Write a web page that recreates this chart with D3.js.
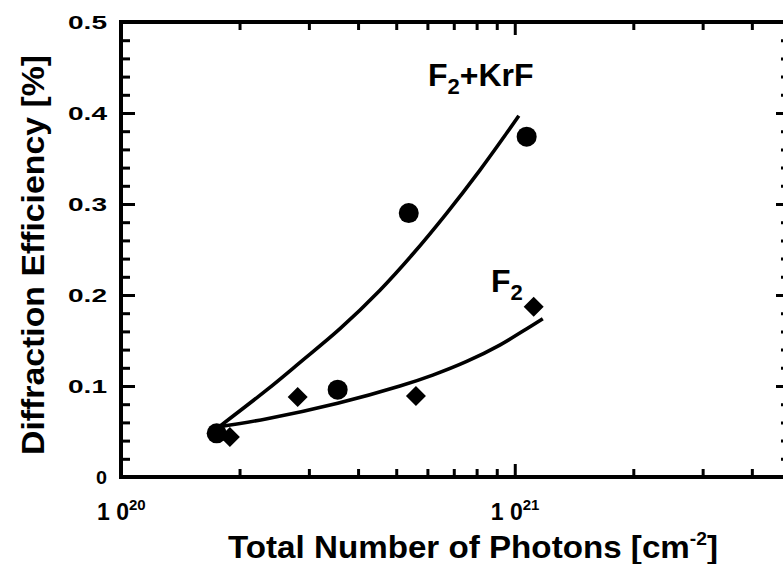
<!DOCTYPE html>
<html>
<head>
<meta charset="utf-8">
<script src="https://cdn.jsdelivr.net/npm/d3@7"></script>
<style>
  body { margin: 0; background: #fff; }
  svg { display: block; }
  text { font-family: "Liberation Sans", Arial, Helvetica, sans-serif; fill: #000; }
</style>
</head>
<body>
<div id="chart"></div>
<script>
// measured points, F2+KrF (circles) and F2 only (diamonds)
var krfX = [1.75e20, 3.55e20, 5.38e20, 1.072e21];
var krfY = [0.048, 0.096, 0.290, 0.374];
var f2X = [1.89e20, 2.81e20, 5.61e20, 1.117e21];
var f2Y = [0.044, 0.088, 0.089, 0.187];

// fit curves
var krfFitX = [1.76e20, 2.35e20, 2.85e20, 3.60e20, 4.54e20, 5.51e20, 6.72e20, 8.15e20, 9.54e20, 1.024e21];
var krfFitY = [0.054, 0.096, 0.126, 0.163, 0.205, 0.245, 0.290, 0.337, 0.378, 0.397];
var f2FitX = [1.76e20, 2.35e20, 3.55e20, 5.11e20, 6.19e20, 7.55e20, 9.16e20, 1.073e21, 1.178e21];
var f2FitY = [0.055, 0.064, 0.081, 0.100, 0.112, 0.127, 0.145, 0.163, 0.174];

// ticks
var xMajor = [1e20, 1e21];
var xMinor = [2e20, 3e20, 4e20, 5e20, 6e20, 7e20, 8e20, 9e20, 2e21, 3e21, 4e21];
var yMajor = [0, 0.1, 0.2, 0.3, 0.4, 0.5];
var yLabels = ["0", "0.1", "0.2", "0.3", "0.4", "0.5"];
var xLabelExp = ["20", "21"];

var W = 783, H = 564;
var m = {left: 121, top: 22, bottom: 477, right: 790};

var svg = d3.select("#chart").append("svg")
  .attr("width", W)
  .attr("height", H);

var x = d3.scaleLog()
  .domain([1e20, 5e21])
  .range([m.left, m.right]);

var y = d3.scaleLinear()
  .domain([0, 0.5])
  .range([m.bottom, m.top]);

var yMinor = d3.range(0, 0.5, 0.02).filter(function(v) {
  return Math.abs(v * 10 - Math.round(v * 10)) > 1e-6;
});

function styleAxis(g) {
  g.select(".domain").remove();
  g.selectAll(".tick line").attr("stroke", "#000").attr("stroke-width", 3);
  g.selectAll(".tick text").remove();
}

// bottom + top ticks (pointing in)
svg.append("g").attr("transform", "translate(0," + m.bottom + ")")
  .call(d3.axisBottom(x).tickValues(xMajor).tickSize(-13)).call(styleAxis);
svg.append("g").attr("transform", "translate(0," + m.bottom + ")")
  .call(d3.axisBottom(x).tickValues(xMinor).tickSize(-8)).call(styleAxis);
svg.append("g").attr("transform", "translate(0," + m.top + ")")
  .call(d3.axisTop(x).tickValues(xMajor).tickSize(-13)).call(styleAxis);
svg.append("g").attr("transform", "translate(0," + m.top + ")")
  .call(d3.axisTop(x).tickValues(xMinor).tickSize(-8)).call(styleAxis);

// left + right ticks
svg.append("g").attr("transform", "translate(" + m.left + ",0)")
  .call(d3.axisLeft(y).tickValues(yMajor).tickSize(-14)).call(styleAxis);
svg.append("g").attr("transform", "translate(" + m.left + ",0)")
  .call(d3.axisLeft(y).tickValues(yMinor).tickSize(-9)).call(styleAxis);
svg.append("g").attr("transform", "translate(" + m.right + ",0)")
  .call(d3.axisRight(y).tickValues(yMajor).tickSize(-14)).call(styleAxis);
svg.append("g").attr("transform", "translate(" + m.right + ",0)")
  .call(d3.axisRight(y).tickValues(yMinor).tickSize(-9)).call(styleAxis);

// frame
svg.append("rect")
  .attr("x", m.left).attr("y", m.top)
  .attr("width", m.right - m.left).attr("height", m.bottom - m.top)
  .attr("fill", "none")
  .attr("stroke", "#000")
  .attr("stroke-width", 4);

// y tick labels
svg.selectAll(".ylab")
  .data(yMajor)
  .enter()
  .append("text")
    .attr("class", "ylab")
    .attr("x", 107)
    .attr("y", function(d) { return y(d) + 6.5; })
    .attr("text-anchor", "end")
    .attr("font-size", 18)
    .attr("font-weight", "bold")
    .attr("textLength", function(d, i) { return yLabels[i].length > 1 ? 39 : 11; })
    .attr("lengthAdjust", "spacingAndGlyphs")
    .text(function(d, i) { return yLabels[i]; });

// x tick labels 1 0^20, 1 0^21
var xl = svg.selectAll(".xlab")
  .data(xMajor)
  .enter()
  .append("text")
    .attr("class", "xlab")
    .attr("x", function(d) { return x(d) - 24; })
    .attr("y", 520)
    .attr("font-size", 23)
    .attr("font-weight", "bold");
xl.append("tspan").text("1 0");
xl.append("tspan")
  .attr("font-size", 15)
  .attr("dy", -10)
  .text(function(d, i) { return xLabelExp[i]; });

// axis titles
var xt = svg.append("text")
  .attr("x", 228)
  .attr("y", 558)
  .attr("font-size", 31)
  .attr("font-weight", "bold")
  .attr("textLength", 490)
  .attr("lengthAdjust", "spacingAndGlyphs");
xt.append("tspan").text("Total Number of Photons [cm");
xt.append("tspan").attr("font-size", 18).attr("dy", -13).text("-2");
xt.append("tspan").attr("dy", 13).text("]");

svg.append("text")
  .attr("transform", "translate(44,455) rotate(-90)")
  .attr("font-size", 32)
  .attr("font-weight", "bold")
  .attr("textLength", 400)
  .attr("lengthAdjust", "spacingAndGlyphs")
  .text("Diffraction Efficiency [%]");

// fit lines
var line = d3.line()
  .curve(d3.curveCatmullRom)
  .x(function(d) { return x(d[0]); })
  .y(function(d) { return y(d[1]); });

svg.append("path")
  .datum(d3.zip(krfFitX, krfFitY))
  .attr("fill", "none")
  .attr("stroke", "#000")
  .attr("stroke-width", 3.6)
  .attr("d", line);

svg.append("path")
  .datum(d3.zip(f2FitX, f2FitY))
  .attr("fill", "none")
  .attr("stroke", "#000")
  .attr("stroke-width", 3.6)
  .attr("d", line);

// diamonds (F2)
svg.selectAll(".dia")
  .data(d3.zip(f2X, f2Y))
  .enter()
  .append("path")
    .attr("class", "dia")
    .attr("d", d3.symbol(d3.symbolSquare, 200))
    .attr("transform", function(d) { return "translate(" + x(d[0]) + "," + y(d[1]) + ") rotate(45)"; })
    .attr("fill", "#000");

// circles (F2+KrF)
svg.selectAll(".dot")
  .data(d3.zip(krfX, krfY))
  .enter()
  .append("circle")
    .attr("class", "dot")
    .attr("cx", function(d) { return x(d[0]); })
    .attr("cy", function(d) { return y(d[1]); })
    .attr("r", 10)
    .attr("fill", "#000");

// series labels
var l1 = svg.append("text")
  .attr("x", 428).attr("y", 86)
  .attr("font-size", 32)
  .attr("font-weight", "bold");
l1.append("tspan").text("F");
l1.append("tspan").attr("font-size", 22).attr("dy", 8).text("2");
l1.append("tspan").attr("dy", -8).text("+KrF");

var l2 = svg.append("text")
  .attr("x", 491).attr("y", 292)
  .attr("font-size", 32)
  .attr("font-weight", "bold");
l2.append("tspan").text("F");
l2.append("tspan").attr("font-size", 22).attr("dy", 8).text("2");
</script>
</body>
</html>
